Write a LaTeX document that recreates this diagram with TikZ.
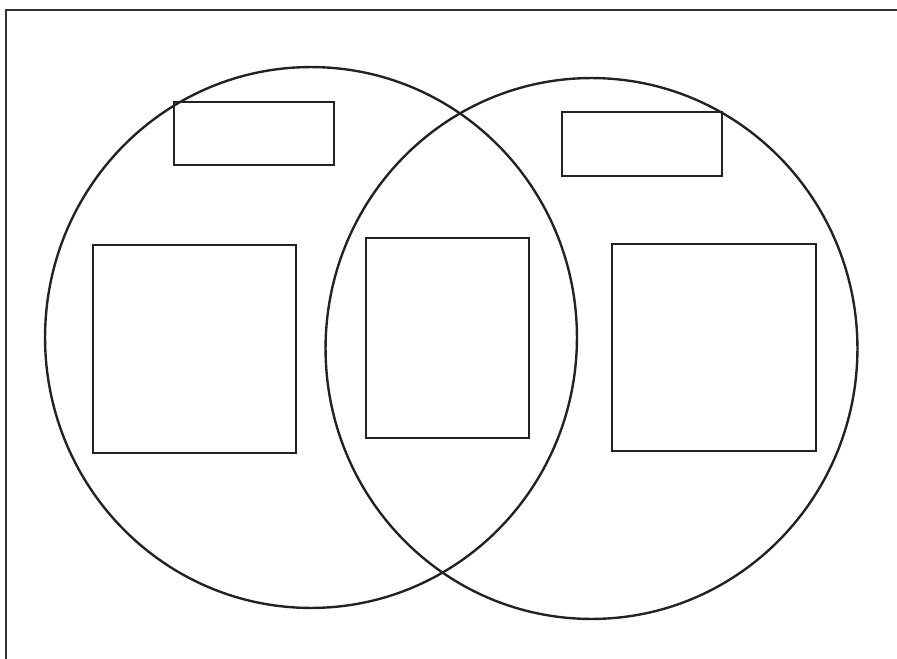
\documentclass[tikz,border=0pt]{standalone}
\usetikzlibrary{positioning, shapes.geometric}
\definecolor{Ink}{HTML}{222222}
\definecolor{FrameGray}{HTML}{333333}
\tikzset{
  set/.style={draw=Ink, line width=1.35pt, ellipse, minimum width=10.64cm,
              minimum height=10.82cm, inner sep=0pt},
  label box/.style={draw=Ink, line width=1.35pt, inner sep=0pt,
                    minimum width=3.2cm, minimum height=1.27cm},
  item box/.style={draw=Ink, line width=1.35pt, inner sep=0pt},
  frame/.style={draw=FrameGray, line width=1pt},
}

\begin{document}
\begin{tikzpicture}[x=0.02cm, y=-0.02cm]
    \useasboundingbox (0,0) rectangle (897,659);
    % page edge, only top and left show
    \draw[frame] (6,659) -- (6,10) -- (897,10);

    \node[set] (left) at (311,337.5) {};
    \node[set] (right) at (591.5,348.5) {};

    \node[label box] (lefttitle) at (254,133.5) {};
    \node[label box] (righttitle) at (642,144) {};

    \node[item box, minimum width=4.06cm, minimum height=4.16cm]
      (leftonly) at (194.5,349) {};
    \node[item box, minimum width=3.26cm, minimum height=4.0cm]
      (both) at (447.5,338) {};
    \node[item box, minimum width=4.08cm, minimum height=4.14cm]
      (rightonly) at (714,347.5) {};
\end{tikzpicture}
\end{document}
